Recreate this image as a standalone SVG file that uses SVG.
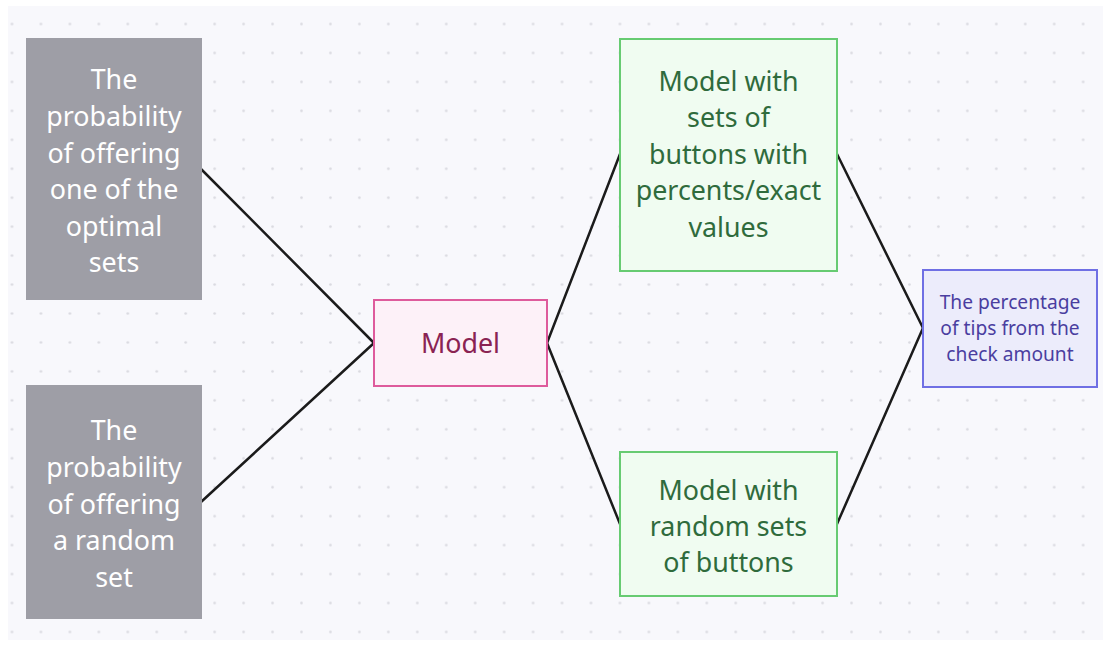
<svg xmlns="http://www.w3.org/2000/svg" width="1103" height="649" viewBox="0 0 1103 649">
  <defs>
    <pattern id="dots" patternUnits="userSpaceOnUse" x="-2.475" y="9.525" width="28.95" height="28.95">
      <circle cx="14.475" cy="14.475" r="1.3" fill="#d9d9e0"/>
    </pattern>
    <style>
      text { font-family: "Noto Sans", "Open Sans", "DejaVu Sans", sans-serif; text-anchor: middle; }
      .grey rect { fill: #9e9ea6; }
      .grey text { fill: #ffffff; font-size: 26.8px; }
      .pink rect { fill: #fdf1f8; stroke: #de5b9c; stroke-width: 2; }
      .pink text { fill: #8a2353; font-size: 26.8px; }
      .green rect { fill: #f0fcf1; stroke: #67cb72; stroke-width: 2; }
      .green text { fill: #2f6b3c; font-size: 26.8px; }
      .purple rect { fill: #ececfb; stroke: #6f6fe4; stroke-width: 2; }
      .purple text { fill: #4a3ea0; font-size: 19.2px; }
      #connectors line { stroke: #1b1b1b; stroke-width: 2.5; stroke-linecap: round; }
    </style>
  </defs>

  <!-- canvas -->
  <rect x="0" y="0" width="1103" height="649" fill="#ffffff"/>
  <rect x="8" y="6" width="1095" height="634" fill="#f8f8fc"/>
  <rect x="8" y="6" width="1095" height="634" fill="url(#dots)"/>

  <!-- connectors -->
  <g id="connectors">
    <line x1="201" y1="169" x2="374" y2="343"/>
    <line x1="201" y1="502" x2="374" y2="343"/>
    <line x1="547" y1="343" x2="620" y2="154"/>
    <line x1="547" y1="343" x2="620" y2="524"/>
    <line x1="837" y1="154" x2="923" y2="328"/>
    <line x1="837" y1="524" x2="923" y2="328"/>
  </g>

  <!-- inputs -->
  <g id="node-optimal" class="grey">
    <rect x="26" y="38" width="176" height="262"/>
    <text x="114" y="89.3">The</text>
    <text x="114" y="126">probability</text>
    <text x="114" y="162.6">of offering</text>
    <text x="114" y="199.2">one of the</text>
    <text x="114" y="235.8">optimal</text>
    <text x="114" y="272.4">sets</text>
  </g>

  <g id="node-random" class="grey">
    <rect x="26" y="385" width="176" height="234"/>
    <text x="114" y="440.3">The</text>
    <text x="114" y="476.9">probability</text>
    <text x="114" y="513.5">of offering</text>
    <text x="114" y="550.1">a random</text>
    <text x="114" y="586.7">set</text>
  </g>

  <!-- model -->
  <g id="node-model" class="pink">
    <rect x="374" y="300" width="173" height="86"/>
    <text x="460.5" y="353">Model</text>
  </g>

  <!-- variants -->
  <g id="node-model-exact" class="green">
    <rect x="620" y="39" width="217" height="232"/>
    <text x="728.5" y="91">Model with</text>
    <text x="728.5" y="127.4">sets of</text>
    <text x="728.5" y="163.8">buttons with</text>
    <text x="728.5" y="200.2">percents/exact</text>
    <text x="728.5" y="236.6">values</text>
  </g>

  <g id="node-model-random" class="green">
    <rect x="620" y="452" width="217" height="144"/>
    <text x="728.5" y="500">Model with</text>
    <text x="728.5" y="536">random sets</text>
    <text x="728.5" y="572">of buttons</text>
  </g>

  <!-- outcome -->
  <g id="node-tips" class="purple">
    <rect x="923" y="270" width="174" height="117"/>
    <text x="1010" y="309">The percentage</text>
    <text x="1010" y="335">of tips from the</text>
    <text x="1010" y="361">check amount</text>
  </g>
</svg>
